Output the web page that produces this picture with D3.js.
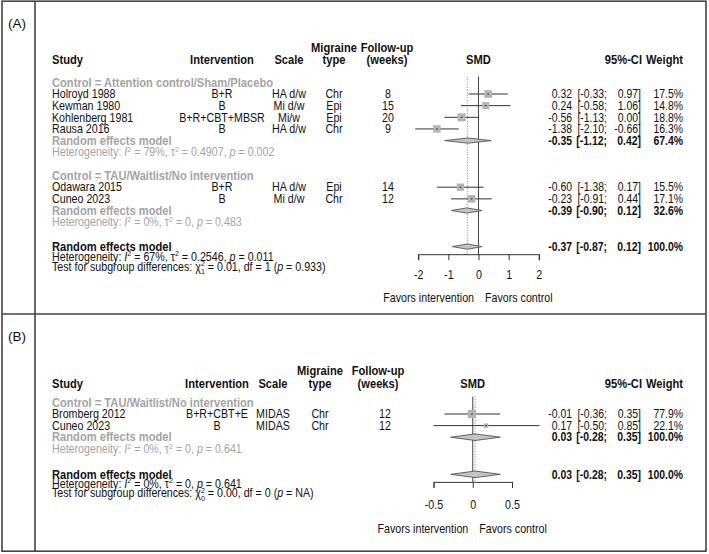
<!DOCTYPE html>
<html><head><meta charset="utf-8">
<script src="https://cdn.jsdelivr.net/npm/d3@7"></script>
<style>body{margin:0;background:#fff}svg{display:block}text{font-family:"Liberation Sans",Arial,Helvetica,sans-serif}</style>
</head><body><svg id="c" width="709" height="554"></svg>
<script>
// ---------- DATA: panel A ----------
const studiesA = ["Holroyd 1988","Kewman 1980","Kohlenberg 1981","Rausa 2016","Odawara 2015","Cuneo 2023"];
const interventionA = ["B+R","B","B+R+CBT+MBSR","B","B+R","B"];
const scaleA = ["HA d/w","Mi d/w","Mi/w","HA d/w","HA d/w","Mi d/w"];
const typeA = ["Chr","Epi","Epi","Chr","Epi","Chr"];
const followA = [8,15,20,9,14,12];
const smdA = [0.32,0.24,-0.56,-1.38,-0.60,-0.23];
const lowerA = [-0.33,-0.58,-1.13,-2.10,-1.38,-0.91];
const upperA = [0.97,1.06,0.00,-0.66,0.17,0.44];
const weightA = [17.5,14.8,18.8,16.3,15.5,17.1];
const groupOfA = [0,0,0,0,1,1];
const subgroupsA = ["Control = Attention control/Sham/Placebo","Control = TAU/Waitlist/No intervention"];
const subSmdA = [-0.35,-0.39];
const subLowerA = [-1.12,-0.90];
const subUpperA = [0.42,0.12];
const subWeightA = [67.4,32.6];
const subI2A = ["79%","0%"];
const subTau2A = ["0.4907","0"];
const subPA = ["0.002","0.483"];
const overallA = {smd:-0.37, lower:-0.87, upper:0.12, weight:100.0, i2:"67%", tau2:"0.2546", p:"0.011", chi:"0.01", chiDf:"1", df:"1", pTest:"0.933"};
const ticksA = [-2,-1,0,1,2];

// ---------- DATA: panel B ----------
const studiesB = ["Bromberg 2012","Cuneo 2023"];
const interventionB = ["B+R+CBT+E","B"];
const scaleB = ["MIDAS","MIDAS"];
const typeB = ["Chr","Chr"];
const followB = [12,12];
const smdB = [-0.01,0.17];
const lowerB = [-0.36,-0.50];
const upperB = [0.35,0.85];
const weightB = [77.9,22.1];
const groupOfB = [0,0];
const subgroupsB = ["Control = TAU/Waitlist/No intervention"];
const subSmdB = [0.03];
const subLowerB = [-0.28];
const subUpperB = [0.35];
const subWeightB = [100.0];
const subI2B = ["0%"];
const subTau2B = ["0"];
const subPB = ["0.641"];
const overallB = {smd:0.03, lower:-0.28, upper:0.35, weight:100.0, i2:"0%", tau2:"0", p:"0.641", chi:"0.00", chiDf:"0", df:"0", pTest:"NA"};
const ticksB = [-0.5,0,0.5];

// ---------- STYLE / LAYOUT ----------
const FS = 12, SXR = 0.89, SXB = 0.93, SXN = 0.87;
const GREY = "#a4a4a4", BLACK = "#111";
const svg = d3.select("#c");

function addText(g, x, y, segs, o = {}) {
  const size = o.size || FS;
  const sx = o.sx || (o.bold ? SXB : SXR);
  const t = g.append("text")
    .attr("transform", `translate(${x},${y + 0.35*size}) scale(${sx},1)`)
    .attr("text-anchor", o.anchor || "start")
    .attr("font-size", size)
    .attr("font-weight", o.bold ? "bold" : "normal")
    .attr("fill", o.color || BLACK);
  if (typeof segs === "string") { t.text(segs); return t; }
  let cur = 0;
  segs.forEach(s => {
    let target = 0, sz = null;
    if (s.sup) { target = -4.5; sz = 8; }
    if (s.sub) { target = 3.5; sz = 8; }
    const ts = t.append("tspan").text(s.t).attr("dy", target - cur);
    if (sz) ts.attr("font-size", sz);
    if (s.it) ts.attr("font-style", "italic");
    if (s.dx) ts.attr("dx", s.dx);
    cur = target;
  });
  return t;
}
const f2 = v => v.toFixed(2);

function hetSegs(i2, tau2, p) {
  return [{t:"Heterogeneity: "},{t:"I",it:true},{t:"2",sup:true},{t:" = "+i2+", \u03c4"},{t:"2",sup:true},
          {t:" = "+tau2+", "},{t:"p",it:true},{t:" = "+p}];
}

function drawPanel(P, L) {
  const g = svg.append("g");
  const row = d3.scaleLinear().domain([0,1]).range([L.r0, L.r0 + L.rh]);
  const x = d3.scaleLinear().domain([P.ticks[0], P.ticks[P.ticks.length-1]]).range(L.xRange);
  const xMid = (L.xRange[0] + L.xRange[1]) / 2;

  addText(g, L.labelX, L.labelY, P.label, {size:13.5, sx:1});

  // headers
  addText(g, L.colStudy, row(L.hdr2), "Study", {bold:true});
  addText(g, L.colInt, row(L.hdr2), "Intervention", {bold:true, anchor:"middle"});
  addText(g, L.colScale, row(L.hdr2), "Scale", {bold:true, anchor:"middle"});
  addText(g, L.colType, row(L.hdr1), "Migraine", {bold:true, anchor:"middle"});
  addText(g, L.colType, row(L.hdr2), "type", {bold:true, anchor:"middle"});
  addText(g, L.colFollowH, row(L.hdr1), "Follow-up", {bold:true, anchor:"middle"});
  addText(g, L.colFollowH, row(L.hdr2), "(weeks)", {bold:true, anchor:"middle"});
  addText(g, xMid, row(L.hdr2), "SMD", {bold:true, anchor:"middle"});
  addText(g, L.colCIh, row(L.hdr2), "95%-CI", {bold:true, anchor:"end"});
  addText(g, L.colW, row(L.hdr2), "Weight", {bold:true, anchor:"end"});

  const maxW = d3.max(P.weight);
  const sq = d3.scaleSqrt().domain([0, maxW]).range([0, L.maxSq]);

  function ciText(y, est, lo, hi, w, bold) {
    const o = {anchor:"end", bold:bold, sx:SXN};
    addText(g, L.colEst, y, f2(est), o);
    addText(g, L.colLo, y, "[" + f2(lo) + ";", o);
    addText(g, L.colHi, y, f2(hi) + "]", o);
    addText(g, L.colW, y, w.toFixed(1) + "%", o);
  }
  function diamond(y, est, lo, hi) {
    g.append("polygon")
      .attr("points", [[x(lo),y],[x(est),y-L.dHalf],[x(hi),y],[x(est),y+L.dHalf]].map(p=>p.join(",")).join(" "))
      .attr("fill", "#c4c4c4").attr("stroke", "#555").attr("stroke-width", 0.9);
  }

  // row indices
  let r = -1;
  const studyRow = [];
  const subRows = [];
  P.subgroups.forEach((sg, k) => {
    const labelRow = r; r++;
    P.groupOf.forEach((gk, i) => { if (gk === k) { studyRow[i] = r; r++; } });
    subRows.push({label: labelRow, re: r, het: r + 1});
    r += 3;
  });
  const ovRow = r + L.ovShift;
  const axisY = row(r + L.axisShift);
  const lineTop = row(L.lineTop);

  // reference lines
  g.append("line").attr("x1", x(P.overall.smd)).attr("x2", x(P.overall.smd))
    .attr("y1", lineTop).attr("y2", axisY).attr("stroke", "#777").attr("stroke-width", 0.9).attr("stroke-dasharray", "1,1.6");
  g.append("line").attr("x1", x(0)).attr("x2", x(0))
    .attr("y1", lineTop).attr("y2", axisY).attr("stroke", "#444").attr("stroke-width", 1);

  // subgroup blocks
  P.subgroups.forEach((sg, k) => {
    const R = subRows[k];
    addText(g, L.colStudy, row(R.label), sg, {bold:true, color:GREY});
    addText(g, L.colStudy, row(R.re), "Random effects model", {bold:true, color:GREY});
    addText(g, L.colStudy, row(R.het), hetSegs(P.subI2[k], P.subTau2[k], P.subP[k]), {color:GREY});
    ciText(row(R.re), P.subSmd[k], P.subLower[k], P.subUpper[k], P.subWeight[k], true);
    diamond(row(R.re), P.subSmd[k], P.subLower[k], P.subUpper[k]);
  });

  // studies
  P.studies.forEach((s, i) => {
    const y = row(studyRow[i]);
    addText(g, L.colStudy, y, s);
    addText(g, L.colInt, y, P.intervention[i], {anchor:"middle"});
    addText(g, L.colScale, y, P.scale[i], {anchor:"middle"});
    addText(g, L.colType, y, P.type[i], {anchor:"middle"});
    addText(g, L.colFollow, y, String(P.follow[i]), {anchor:"middle"});
    ciText(y, P.smd[i], P.lower[i], P.upper[i], P.weight[i], false);
    g.append("line").attr("x1", x(P.lower[i])).attr("x2", x(P.upper[i]))
      .attr("y1", y).attr("y2", y).attr("stroke", "#333").attr("stroke-width", 1);
    const s2 = sq(P.weight[i]);
    g.append("rect").attr("x", x(P.smd[i]) - s2/2).attr("y", y - s2/2)
      .attr("width", s2).attr("height", s2).attr("fill", "#b4b4b4");
    g.append("rect").attr("x", x(P.smd[i]) - 0.8).attr("y", y - 0.6)
      .attr("width", 1.6).attr("height", 1.2).attr("fill", "#333");
  });

  // overall
  const yo = row(ovRow);
  addText(g, L.colStudy, yo, "Random effects model", {bold:true});
  addText(g, L.colStudy, row(ovRow + L.hetGap), hetSegs(P.overall.i2, P.overall.tau2, P.overall.p));
  addText(g, L.colStudy, row(ovRow + 2*L.hetGap),
    [{t:"Test for subgroup differences: \u03c7"},{t:"2",sup:true},{t:P.overall.chiDf,sub:true,dx:-4.45},
     {t:" = "+P.overall.chi+", df = "+P.overall.df+" ("},{t:"p",it:true},{t:" = "+P.overall.pTest+")"}]);
  ciText(yo, P.overall.smd, P.overall.lower, P.overall.upper, P.overall.weight, true);
  diamond(yo, P.overall.smd, P.overall.lower, P.overall.upper);

  // axis
  const ax = g.append("g").attr("transform", `translate(0,${axisY})`)
    .call(d3.axisBottom(x).tickValues(P.ticks).tickSize(6).tickSizeOuter(6).tickFormat(d => String(d)));
  ax.selectAll("path,line").attr("stroke", "#333").attr("stroke-width", 1);
  ax.selectAll("text").attr("y", L.tickOff).attr("dy", "0.35em")
    .attr("transform", `scale(${SXR},1)`).attr("font-size", FS).attr("fill", BLACK)
    .attr("font-family", '"Liberation Sans",Arial,sans-serif');
  addText(g, x(0) - 4.5, axisY + L.favOff, "Favors intervention", {anchor:"end"});
  addText(g, x(0) + 6.5, axisY + L.favOff, "Favors control");
}

// frame
const frame = svg.append("g").attr("fill", "none").attr("stroke", "#444").attr("stroke-width", 1.6);
frame.append("rect").attr("x", 2).attr("y", 1.2).attr("width", 704).attr("height", 550);
frame.append("line").attr("x1", 35).attr("x2", 35).attr("y1", 1.2).attr("y2", 551.2);
frame.append("line").attr("x1", 2).attr("x2", 706).attr("y1", 314).attr("y2", 314);

drawPanel({label:"(A)", studies:studiesA, intervention:interventionA, scale:scaleA, type:typeA, follow:followA,
  smd:smdA, lower:lowerA, upper:upperA, weight:weightA, groupOf:groupOfA, subgroups:subgroupsA,
  subSmd:subSmdA, subLower:subLowerA, subUpper:subUpperA, subWeight:subWeightA, subI2:subI2A, subTau2:subTau2A, subP:subPA,
  overall:overallA, ticks:ticksA},
 {labelX:8, labelY:23, r0:94, rh:11.65, hdr1:-3.95, hdr2:-2.9, xRange:[418.2,538.8], colStudy:52, colInt:222, colScale:289,
  colType:334, colFollowH:387, colFollow:388, colEst:572, colLo:607, colHi:641, colW:683, colCIh:642,
  maxSq:8, dHalf:2.6, ovShift:0.1, hetGap:0.85, axisShift:0.75, lineTop:-1.5, tickOff:21, favOff:44});

drawPanel({label:"(B)", studies:studiesB, intervention:interventionB, scale:scaleB, type:typeB, follow:followB,
  smd:smdB, lower:lowerB, upper:upperB, weight:weightB, groupOf:groupOfB, subgroups:subgroupsB,
  subSmd:subSmdB, subLower:subLowerB, subUpper:subUpperB, subWeight:subWeightB, subI2:subI2B, subTau2:subTau2B, subP:subPB,
  overall:overallB, ticks:ticksB},
 {labelX:8, labelY:336, r0:414, rh:11.6, hdr1:-3.7, hdr2:-2.6, xRange:[433.5,512], colStudy:52, colInt:217, colScale:273,
  colType:320, colFollowH:378, colFollow:385, colEst:572, colLo:607, colHi:641, colW:683, colCIh:642,
  maxSq:8.3, dHalf:3.3, ovShift:0.2, hetGap:0.8, axisShift:0.85, lineTop:-1.5, tickOff:23, favOff:47});
</script></body></html>
